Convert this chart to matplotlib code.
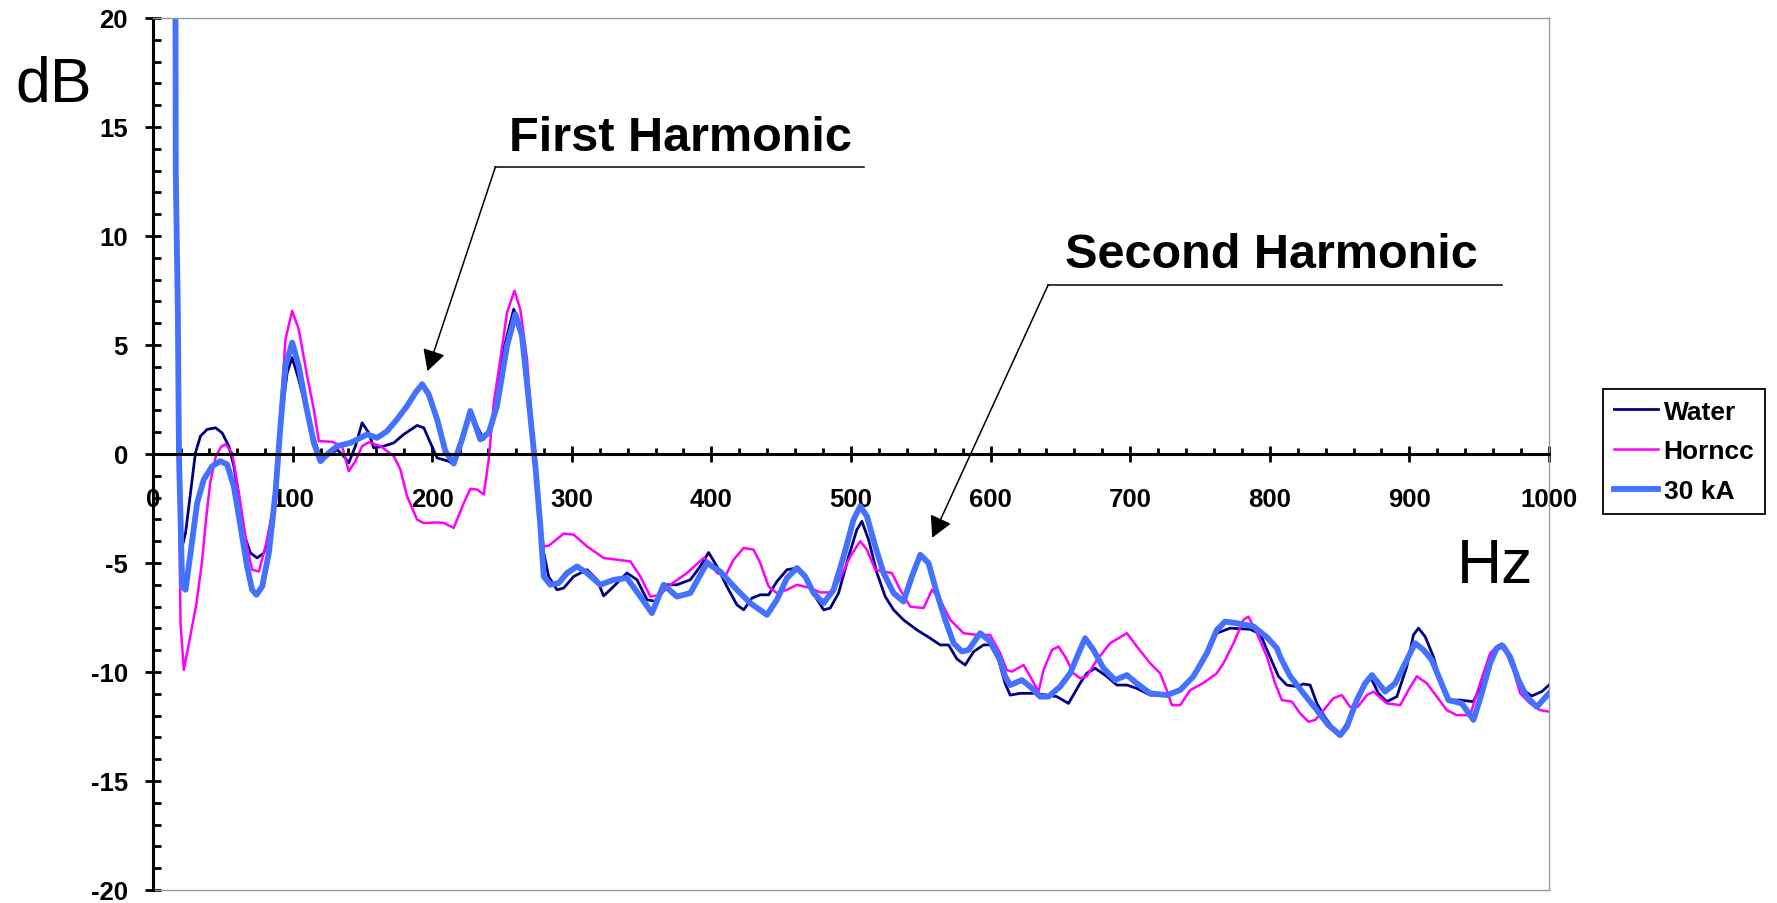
import numpy as np
import matplotlib
matplotlib.use("Agg")
import matplotlib.pyplot as plt
from matplotlib.ticker import MultipleLocator

plt.rcParams['font.family'] = ['Liberation Sans', 'DejaVu Sans']
plt.rcParams['axes.unicode_minus'] = False

# Water
water_hz = [17.0, 19.5, 20.9, 23.3, 26.9, 30.4, 34.0, 38.8, 44.8, 49.5, 54.3, 57.9, 61.5, 65.0,
            69.8, 74.6, 79.4, 84.1, 88.9, 92.5, 96.1, 99.7, 104.4, 110.4, 116.4, 120.0, 124.7,
            131.9, 136.6, 140.2, 145.0, 149.8, 154.6, 158.1, 165.3, 172.5, 179.6, 189.2, 194.0,
            198.7, 203.5, 211.8, 214.2, 220.2, 227.3, 232.1, 236.9, 241.7, 246.4, 251.2, 258.4,
            263.1, 267.9, 272.7, 276.3, 279.9, 283.4, 289.4, 294.2, 301.3, 310.9, 318.1, 322.8,
            328.8, 339.5, 346.7, 353.9, 361.0, 365.8, 375.3, 384.9, 392.0, 398.0, 404.0, 411.1,
            418.3, 423.1, 429.0, 435.0, 441.0, 446.9, 454.1, 461.3, 468.4, 474.4, 480.4, 485.1,
            491.1, 498.3, 504.2, 507.8, 512.6, 518.6, 524.5, 530.5, 537.6, 547.2, 556.7, 563.9,
            569.9, 575.8, 581.8, 587.8, 594.9, 599.7, 605.7, 610.4, 614.0, 621.2, 630.7, 640.3,
            647.4, 655.8, 664.1, 668.9, 674.9, 683.2, 690.4, 697.6, 704.7, 714.3, 726.2, 733.4,
            743.0, 752.5, 762.0, 771.6, 785.9, 793.1, 799.0, 806.2, 812.2, 819.4, 824.1, 828.9,
            833.7, 838.5, 844.4, 850.4, 855.2, 860.0, 867.1, 871.9, 877.8, 883.8, 891.0, 898.1,
            902.9, 906.5, 911.3, 917.2, 923.2, 928.0, 936.3, 945.9, 951.8, 956.6, 961.4, 966.2,
            970.9, 976.9, 981.7, 987.6, 994.8, 1000.0]
water_db = [9.0, -2.0, -4.24, -3.63, -1.78, 0.05, 0.82, 1.13, 1.2, 0.97, 0.36, -0.56, -1.94, -3.63,
            -4.54, -4.77, -4.54, -3.63, -1.17, 1.89, 3.73, 4.42, 3.42, 1.89, 0.51, -0.18, -0.1,
            0.2, -0.1, -0.41, 0.36, 1.43, 0.97, 0.28, 0.36, 0.51, 0.9, 1.31, 1.2,
            0.51, -0.18, -0.33, -0.44, 0.36, 1.97, 1.28, 0.67, 1.13, 2.51, 4.81, 6.64,
            5.88, 3.58, 0.36, -2.55, -4.54, -5.62, -6.23, -6.15, -5.62, -5.31, -5.77, -6.51,
            -6.15, -5.46, -5.77, -6.69, -6.77, -6.0, -6.0, -5.77, -5.16, -4.52, -5.16, -6.08,
            -6.92, -7.15, -6.61, -6.46, -6.46, -5.85, -5.31, -5.23, -5.77, -6.54, -7.15, -7.07,
            -6.38, -4.7, -3.47, -3.09, -3.93, -5.46, -6.54, -7.15, -7.61, -8.07, -8.45, -8.76,
            -8.76, -9.4, -9.68, -9.07, -8.76, -8.75, -9.45, -10.52, -11.06, -10.98, -10.98, -11.06,
            -11.13, -11.44, -10.52, -10.06, -9.83, -10.2, -10.6, -10.6, -10.75, -11.06, -11.06, -10.9,
            -10.37, -9.45, -8.22, -7.99, -8.04, -8.26, -9.14, -10.2, -10.6, -10.67, -10.55, -10.6,
            -11.44, -11.98, -12.5, -12.82, -12.36, -11.6, -10.67, -10.2, -10.98, -11.36, -11.13, -9.76,
            -8.3, -7.99, -8.38, -9.3, -10.67, -11.29, -11.29, -11.36, -10.52, -9.45, -8.91, -8.71,
            -9.14, -10.06, -10.83, -11.1, -10.9, -10.6]

# Horncc
horncc_hz = [16.0, 17.5, 19.7, 22.1, 26.9, 31.0, 35.0, 38.0, 41.0, 45.0, 49.0, 52.0, 56.7, 61.5,
             67.4, 71.0, 75.8, 80.6, 87.7, 91.3, 94.9, 99.7, 104.4, 110.4, 115.2, 118.8, 128.3,
             135.5, 140.2, 145.0, 149.8, 154.6, 162.9, 172.5, 177.2, 182.0, 189.2, 194.0, 203.5,
             208.2, 215.4, 222.6, 227.3, 232.1, 236.9, 240.5, 244.1, 248.8, 253.6, 258.9, 263.1,
             267.9, 271.5, 275.1, 279.9, 283.4, 294.2, 301.3, 310.9, 322.8, 342.0, 349.1, 356.3,
             363.4, 370.6, 382.5, 394.4, 399.2, 404.0, 410.0, 415.9, 423.1, 430.2, 435.0, 441.0,
             446.9, 454.1, 461.3, 470.8, 478.0, 485.1, 491.1, 499.5, 506.6, 511.4, 517.4, 523.3,
             529.3, 535.3, 542.4, 552.0, 558.0, 563.9, 571.1, 580.6, 590.2, 599.7, 606.9, 611.6,
             615.2, 623.6, 628.3, 634.3, 637.9, 643.9, 648.6, 653.4, 659.4, 664.1, 668.9, 676.1,
             685.6, 697.6, 704.7, 714.3, 721.4, 726.2, 729.8, 735.8, 743.0, 752.5, 762.0, 766.8,
             774.0, 781.1, 784.7, 790.7, 797.9, 803.8, 808.6, 815.8, 821.7, 827.7, 832.5, 839.6,
             845.6, 851.6, 857.5, 863.0, 869.5, 874.3, 883.8, 893.4, 899.3, 905.3, 912.5, 919.6,
             926.8, 933.9, 943.5, 950.6, 957.8, 963.8, 968.5, 974.5, 979.3, 986.4, 993.6, 1000.0]
horncc_db = [13.0, 4.8, -7.76, -9.91, -8.3, -6.9, -5.0, -3.0, -1.3, -0.1, 0.35, 0.44, 0.05, -1.79,
             -4.24, -5.31, -5.39, -4.24, -1.94, 1.89, 5.26, 6.57, 5.72, 3.58, 2.05, 0.59, 0.56,
             0.36, -0.79, -0.33, 0.36, 0.54, 0.36, -0.1, -0.71, -1.94, -3.01, -3.17, -3.14,
             -3.16, -3.39, -2.25, -1.6, -1.63, -1.86, -0.25, 2.35, 4.35, 6.49, 7.49, 6.64,
             4.35, 1.28, -1.79, -4.24, -4.21, -3.65, -3.7, -4.24, -4.77, -4.93, -5.62, -6.54,
             -6.46, -6.0, -5.46, -4.77, -5.0, -5.46, -5.6, -4.85, -4.31, -4.39, -5.0, -6.08,
             -6.38, -6.23, -6.0, -6.15, -6.35, -6.35, -5.85, -4.7, -4.0, -4.39, -5.31, -5.39,
             -5.46, -6.23, -7.0, -7.07, -6.23, -6.69, -7.61, -8.22, -8.3, -8.3, -9.14, -9.91,
             -9.98, -9.68, -10.2, -10.9, -9.91, -8.99, -8.83, -9.3, -10.06, -10.29, -10.2, -9.45,
             -8.68, -8.22, -8.83, -9.6, -10.06, -10.83, -11.52, -11.52, -10.83, -10.5, -10.06, -9.6,
             -8.68, -7.61, -7.46, -8.22, -9.3, -10.52, -11.29, -11.36, -11.9, -12.28, -12.2, -11.67,
             -11.2, -11.06, -11.6, -11.6, -11.06, -10.9, -11.44, -11.52, -10.83, -10.2, -10.52, -11.13,
             -11.75, -11.98, -11.98, -10.52, -9.14, -8.76, -8.99, -9.91, -10.98, -11.44, -11.75, -11.82]

# 30 kA
ka30_hz = [15.8, 16.3, 17.8, 18.6, 20.9, 23.3, 26.9, 31.6, 36.4, 42.4, 48.3, 53.1, 57.9, 62.7,
           67.4, 71.0, 74.1, 78.2, 83.0, 87.7, 91.3, 94.9, 99.7, 104.4, 109.2, 115.2, 120.0,
           125.9, 131.9, 141.4, 148.6, 153.4, 160.5, 167.7, 174.8, 182.0, 188.0, 192.8, 197.5,
           203.5, 209.4, 215.4, 221.4, 227.3, 234.5, 240.5, 246.4, 253.6, 259.6, 264.3, 269.1,
           273.9, 277.5, 279.9, 284.6, 290.6, 296.6, 303.7, 310.9, 320.4, 330.0, 339.5, 349.1,
           357.4, 365.8, 375.3, 384.9, 396.8, 406.4, 418.3, 427.8, 439.8, 446.9, 454.1, 461.3,
           467.2, 473.2, 480.4, 487.5, 494.7, 501.8, 506.6, 511.4, 517.4, 523.3, 530.5, 537.6,
           543.6, 549.6, 555.5, 561.5, 567.5, 573.5, 579.4, 584.2, 592.5, 599.7, 606.9, 610.4,
           614.0, 622.4, 628.3, 635.5, 641.5, 649.8, 657.0, 663.0, 667.7, 673.7, 680.9, 689.2,
           697.6, 704.7, 714.3, 726.2, 735.8, 745.3, 754.9, 762.0, 768.0, 776.3, 788.3, 797.8,
           805.0, 807.4, 814.6, 824.1, 833.7, 842.0, 850.4, 855.2, 862.3, 868.3, 873.1, 877.8,
           882.6, 889.8, 898.1, 904.1, 910.1, 916.0, 922.0, 928.0, 937.5, 945.9, 951.8, 957.8,
           962.6, 966.9, 972.1, 978.1, 984.0, 991.2, 1000.0]
ka30_db = [30.0, 13.0, 6.5, 0.0, -6.08, -6.23, -4.54, -2.25, -1.17, -0.56, -0.33, -0.48, -1.48, -3.32,
           -5.16, -6.23, -6.46, -6.08, -4.54, -1.79, 1.28, 4.04, 5.11, 4.04, 2.35, 0.51, -0.33,
           0.05, 0.36, 0.51, 0.74, 0.9, 0.74, 1.05, 1.59, 2.2, 2.81, 3.2, 2.74,
           1.59, 0.13, -0.44, 0.67, 1.97, 0.67, 0.97, 2.2, 4.96, 6.41, 5.42, 2.51,
           -0.56, -3.32, -5.62, -6.0, -5.92, -5.46, -5.16, -5.46, -6.0, -5.77, -5.69, -6.54,
           -7.3, -6.0, -6.54, -6.38, -5.0, -5.4, -6.23, -6.84, -7.38, -6.69, -5.69, -5.23,
           -5.62, -6.38, -6.84, -6.23, -4.7, -3.01, -2.4, -2.86, -4.24, -5.46, -6.38, -6.77,
           -5.62, -4.62, -5.0, -6.38, -7.61, -8.68, -9.06, -8.99, -8.22, -8.6, -9.45, -10.2,
           -10.6, -10.37, -10.67, -11.13, -11.13, -10.67, -10.06, -9.14, -8.45, -8.99, -9.83, -10.37,
           -10.14, -10.52, -10.98, -11.06, -10.83, -10.2, -9.14, -8.07, -7.69, -7.76, -7.91, -8.4,
           -8.9, -9.3, -10.2, -10.98, -11.75, -12.44, -12.9, -12.51, -11.29, -10.52, -10.14, -10.52,
           -10.9, -10.52, -9.45, -8.68, -8.99, -9.45, -10.37, -11.29, -11.44, -12.2, -10.98, -9.6,
           -8.91, -8.8, -9.3, -10.37, -11.13, -11.6, -10.98]

fig = plt.figure(figsize=(17.77, 9.04), dpi=100)
ax = fig.add_axes([0.0861, 0.0144, 0.7856, 0.9646])

ax.plot(water_hz, water_db, color='#000080', lw=2.0, label='Water')
ax.plot(horncc_hz, horncc_db, color='#ff00ff', lw=1.8, label='Horncc')
ax.plot(ka30_hz, ka30_db, color='#4472ff', lw=4.2, label='30 kA')

ax.set_xlim(0, 1000)
ax.set_ylim(-20, 20)

ax.spines['bottom'].set_position(('data', 0))
ax.spines['left'].set_position(('data', 0))
for s in ['bottom', 'left']:
    ax.spines[s].set_linewidth(2.2)
    ax.spines[s].set_color('black')
for s in ['top', 'right']:
    ax.spines[s].set_linewidth(1.0)
    ax.spines[s].set_color('#999999')
ax.axhline(-20, color='#999999', lw=1.0, clip_on=False)

ax.xaxis.set_major_locator(MultipleLocator(100))
ax.xaxis.set_minor_locator(MultipleLocator(20))
ax.yaxis.set_major_locator(MultipleLocator(5))
ax.yaxis.set_minor_locator(MultipleLocator(1))
ax.tick_params(axis='x', which='major', direction='inout', length=12, width=2, pad=18, labelsize=18.5)
ax.tick_params(axis='x', which='minor', direction='in', length=4.5, width=2)
ax.tick_params(axis='y', which='major', direction='inout', length=12, width=2, pad=12, labelsize=18.5)
ax.tick_params(axis='y', which='minor', direction='in', length=6, width=2)
for lab in ax.get_xticklabels() + ax.get_yticklabels():
    lab.set_fontweight('bold')

# annotations
ax.annotate('', xy=(196.6, 3.8), xytext=(245.3, 13.17),
            arrowprops=dict(arrowstyle='-|>,head_length=0.65,head_width=0.35', mutation_scale=20,
                            color='black', lw=1.1, shrinkA=0, shrinkB=0))
ax.plot([245.3, 509.5], [13.17, 13.17], color='black', lw=1.1)
ax.text(255.3, 14.5, 'First Harmonic', fontsize=35, fontweight='bold', va='center', ha='left')

ax.annotate('', xy=(558.2, -3.84), xytext=(641.2, 7.75),
            arrowprops=dict(arrowstyle='-|>,head_length=0.65,head_width=0.35', mutation_scale=20,
                            color='black', lw=1.1, shrinkA=0, shrinkB=0))
ax.plot([641.2, 966.3], [7.75, 7.75], color='black', lw=1.1)
ax.text(653.4, 9.13, 'Second Harmonic', fontsize=35, fontweight='bold', va='center', ha='left')

fig.text(15 / 1777, 1 - 102 / 904, 'dB', fontsize=45, va='baseline', ha='left')
fig.text(1457 / 1777, 1 - 583 / 904, 'Hz', fontsize=45, va='baseline', ha='left')

leg = fig.legend(loc='upper left', bbox_to_anchor=(1603 / 1777, 1 - 390 / 904),
                 frameon=True, fancybox=False, edgecolor='black', framealpha=1,
                 prop=dict(weight='bold', size=19), handlelength=1.7, handletextpad=0.2,
                 labelspacing=0.6, borderpad=0.4, borderaxespad=0)
leg.get_frame().set_linewidth(1.3)

fig.savefig('out.png', dpi=100)
